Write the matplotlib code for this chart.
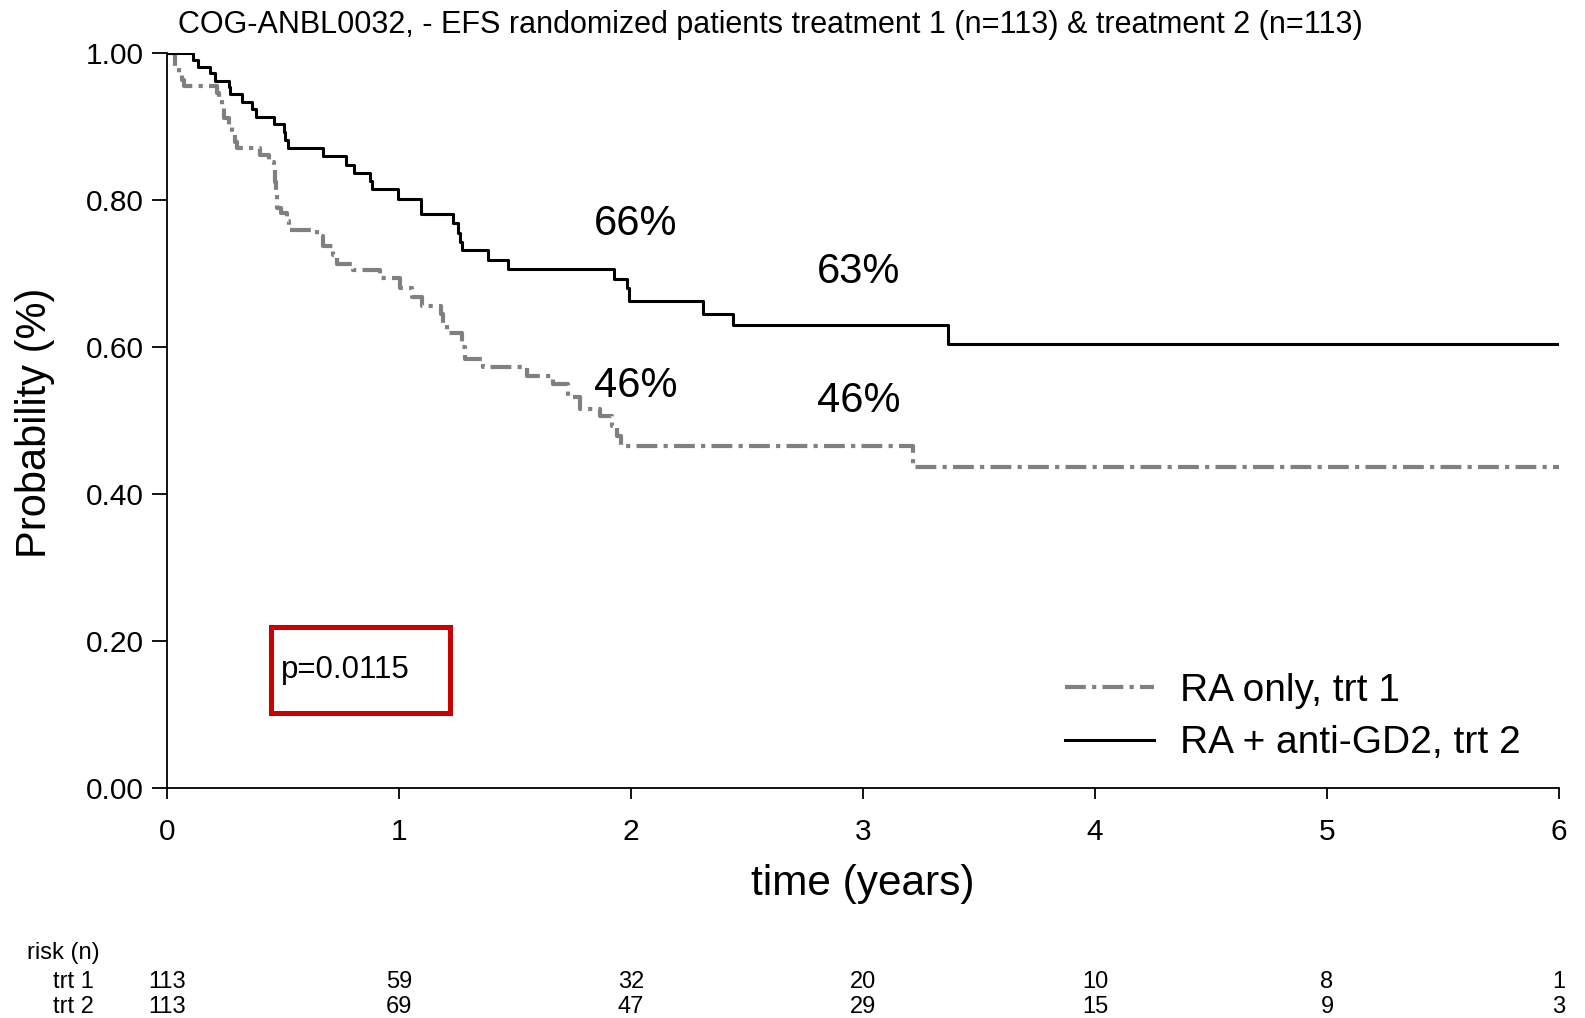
import matplotlib
matplotlib.use("Agg")
import matplotlib.pyplot as plt
import matplotlib.patches as patches
import matplotlib.transforms as mtransforms

plt.rcParams['font.family'] = ['Liberation Sans', 'DejaVu Sans']
NARROW = ['Liberation Sans Narrow', 'Liberation Sans', 'DejaVu Sans']

# Kaplan-Meier step data (time in years, survival)
trt1_t = [0, 0.034, 0.05, 0.065, 0.075, 0.214, 0.222, 0.236, 0.245, 0.265, 0.28, 0.293,
          0.30, 0.40, 0.44, 0.46, 0.465, 0.468, 0.472, 0.49, 0.516, 0.525, 0.645, 0.674,
          0.717, 0.733, 0.80, 0.918, 1.004, 1.055, 1.098, 1.18, 1.19, 1.205, 1.27, 1.284,
          1.363, 1.55, 1.665, 1.73, 1.78, 1.866, 1.917, 1.94, 1.955, 3.216, 6.0]
trt1_s = [1.0, 0.982, 0.973, 0.964, 0.956, 0.946, 0.937, 0.925, 0.912, 0.900, 0.890, 0.880,
          0.871, 0.862, 0.852, 0.843, 0.825, 0.808, 0.790, 0.783, 0.772, 0.760, 0.751, 0.738,
          0.726, 0.714, 0.705, 0.695, 0.681, 0.668, 0.656, 0.645, 0.632, 0.620, 0.600, 0.584,
          0.573, 0.561, 0.550, 0.532, 0.516, 0.507, 0.493, 0.480, 0.466, 0.437, 0.437]

trt2_t = [0, 0.111, 0.132, 0.185, 0.207, 0.265, 0.272, 0.322, 0.365, 0.384, 0.461, 0.505,
          0.509, 0.52, 0.674, 0.772, 0.806, 0.875, 0.882, 0.997, 1.093, 1.234, 1.252, 1.262,
          1.270, 1.382, 1.471, 1.928, 1.981, 1.993, 2.312, 2.441, 3.368, 6.0]
trt2_s = [1.0, 0.991, 0.982, 0.973, 0.963, 0.954, 0.945, 0.934, 0.924, 0.914, 0.904, 0.893,
          0.882, 0.871, 0.860, 0.848, 0.837, 0.826, 0.815, 0.802, 0.781, 0.769, 0.756, 0.744,
          0.732, 0.719, 0.706, 0.693, 0.681, 0.663, 0.646, 0.630, 0.604, 0.604]

# percentage annotations: (x, y, text)
pct_labels = [(2.02, 0.768, '66%'), (2.98, 0.702, '63%'),
              (2.02, 0.548, '46%'), (2.98, 0.527, '46%')]

risk_times = [0, 1, 2, 3, 4, 5, 6]
risk_trt1 = [113, 59, 32, 20, 10, 8, 1]
risk_trt2 = [113, 69, 47, 29, 15, 9, 3]

fig = plt.figure(figsize=(15.85, 10.18), dpi=100)
ax = fig.add_axes([0.1054, 0.2255, 0.8782, 0.7221])

ax.step(trt1_t, trt1_s, where='post', color='#808080', lw=3.0,
        linestyle=(0, (5, 1.5, 1, 1.5)), label='RA only, trt 1')
ax.step(trt2_t, trt2_s, where='post', color='black', lw=2.2,
        label='RA + anti-GD2, trt 2')

ax.set_xlim(0, 6)
ax.set_ylim(0, 1)
for s in ['top', 'right']:
    ax.spines[s].set_visible(False)
ax.spines['left'].set_linewidth(1.3)
ax.spines['bottom'].set_linewidth(1.3)
ax.set_xticks(risk_times)
ax.set_yticks([0, 0.2, 0.4, 0.6, 0.8, 1.0])
ax.set_yticklabels(['0.00', '0.20', '0.40', '0.60', '0.80', '1.00'])
ax.tick_params(axis='y', length=11, width=1.3, pad=6, labelsize=21.5)
ax.tick_params(axis='x', length=8, width=1.3, pad=13, labelsize=21.5)

for x, y, txt in pct_labels:
    ax.text(x, y, txt, ha='center', va='center', fontsize=30, family=NARROW)

ax.add_patch(patches.Rectangle((0.449, 0.103), 0.771, 0.116, fill=False,
                               edgecolor='#cc0000', lw=3.6))
ax.text(0.49, 0.161, 'p=0.0115', ha='left', va='center', fontsize=22.5)

ax.legend(loc='center left', bbox_to_anchor=(0.645, 0.097), frameon=False,
          fontsize=28, handlelength=2.3, handletextpad=0.65, labelspacing=0.43,
          borderpad=0, borderaxespad=0)

fig.text(0.1123, 0.9757, 'COG-ANBL0032, - EFS randomized patients treatment 1 (n=113) '
         '& treatment 2 (n=113)', ha='left', va='center', fontsize=22, family=NARROW)
fig.text(0.0218, 0.5845, 'Probability (%)', rotation=90, ha='center', va='center', fontsize=30)
fig.text(0.5445, 0.132, 'time (years)', ha='center', va='center', fontsize=30.5)

# risk table
tr = mtransforms.blended_transform_factory(ax.transData, fig.transFigure)
fig.text(0.0172, 0.0640, 'risk (n)', ha='left', va='center', fontsize=17, family=NARROW)
fig.text(0.0593, 0.0355, 'trt 1', ha='right', va='center', fontsize=17, family=NARROW)
fig.text(0.0593, 0.0110, 'trt 2', ha='right', va='center', fontsize=17, family=NARROW)
for t, n1, n2 in zip(risk_times, risk_trt1, risk_trt2):
    ax.text(t, 0.0355, str(n1), transform=tr, ha='center', va='center', fontsize=17,
            family=NARROW, clip_on=False)
    ax.text(t, 0.0110, str(n2), transform=tr, ha='center', va='center', fontsize=17,
            family=NARROW, clip_on=False)

fig.savefig('out.png', dpi=100)
